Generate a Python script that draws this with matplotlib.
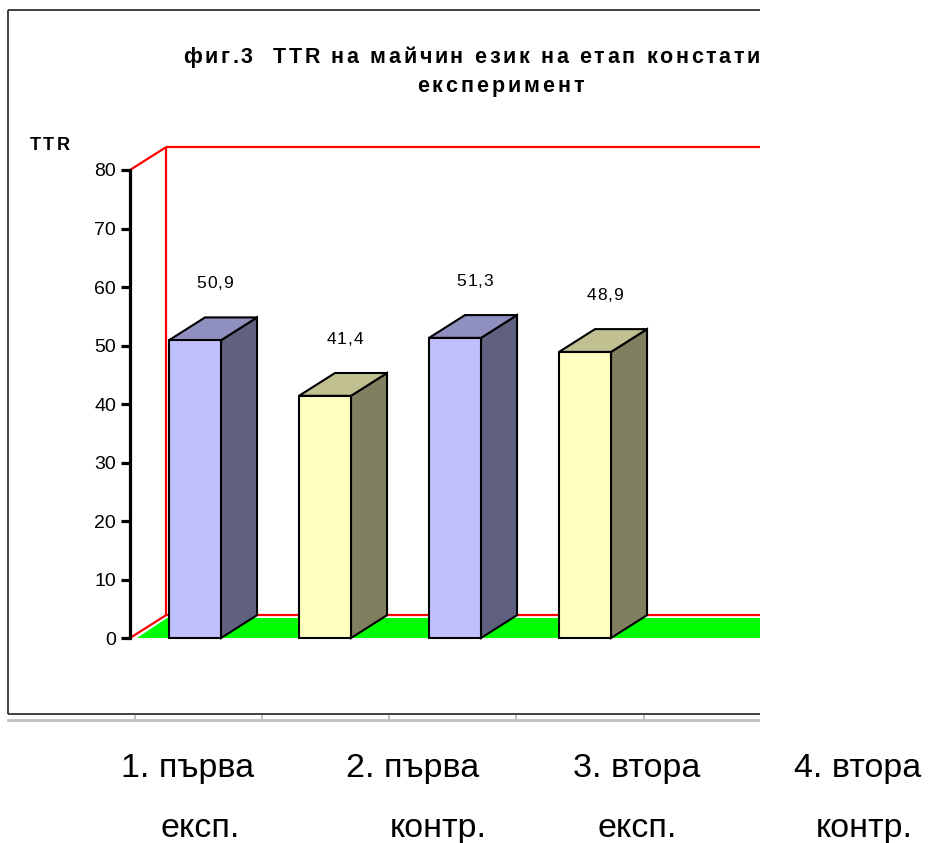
import matplotlib
matplotlib.use("Agg")
import matplotlib.pyplot as plt
from matplotlib.patches import Polygon, Rectangle
from matplotlib.font_manager import FontProperties

# data
groups = ["1. първа експ.", "2. първа контр.", "3. втора експ.", "4. втора контр."]
line1 = ["1. първа", "2. първа", "3. втора", "4. втора"]
line2 = ["експ.", "контр.", "експ.", "контр."]
ttr = [50.9, 41.4, 51.3, 48.9]
labels = ["50,9", "41,4", "51,3", "48,9"]
kinds = ["exp", "ctrl", "exp", "ctrl"]
yticks = [0, 10, 20, 30, 40, 50, 60, 70, 80]

title1 = "фиг.3  TTR на майчин език на етап констатиращ"
title2 = "експеримент"

W, H, DPI = 938, 843, 100
FONT = "Liberation Sans"

# front / top / side shades
colors = {
    "exp": ("#C0C0FF", "#9090C0", "#606080"),
    "ctrl": ("#FFFFC0", "#C0C090", "#808060"),
}

DX, DY = 0.277, 3.9      # depth of the 3d box in data units
BW = 0.4                 # bar width
AX0 = -0.5               # where the value axis stands

fig = plt.figure(figsize=(W / DPI, H / DPI), dpi=DPI)
fig.patch.set_facecolor("white")


def frac(px_left, px_top, px_w, px_h):
    return [px_left / W, 1 - (px_top + px_h) / H, px_w / W, px_h / H]


# main chart axes
ax = fig.add_axes(frac(8, 10, 752, 704))
ax.set_xlim(-1.4385, 4.346)
ax.set_ylim(-12.99, 107.35)
ax.patch.set_visible(False)
for s in ["top", "right", "bottom"]:
    ax.spines[s].set_visible(False)
ax.spines["left"].set_position(("data", AX0))
ax.spines["left"].set_bounds(0, 80)
ax.spines["left"].set_linewidth(2.3)
ax.spines["left"].set_zorder(6)
ax.set_xticks([])
ax.set_yticks(yticks)
ax.tick_params(axis="y", direction="out", length=6.5, width=2.3, pad=3.5,
               labelsize=14, colors="black")
for t in ax.get_yticklabels():
    t.set_fontfamily(FONT)

# floor and walls
XR = 6
floor = Polygon([(AX0 + 0.05, 0), (XR, 0), (XR, DY - 0.5), (AX0 + DX + 0.01, DY - 0.5)],
                closed=True, facecolor="#00FF00", edgecolor="none", zorder=1)
ax.add_patch(floor)
red = dict(color="#FF0000", lw=1.6, zorder=2, solid_capstyle="butt")
ax.plot([AX0, AX0 + DX], [0, DY], **red)
ax.plot([AX0 + DX, XR], [DY, DY], **red)
ax.plot([AX0 + DX, AX0 + DX], [DY, 80 + DY], **red)
ax.plot([AX0, AX0 + DX], [80, 80 + DY], **red)
ax.plot([AX0 + DX, XR], [80 + DY, 80 + DY], **red)

# bars
for i, (v, k) in enumerate(zip(ttr, kinds)):
    front, top, side = colors[k]
    x0, x1 = i - BW / 2, i + BW / 2
    ec = dict(edgecolor="black", linewidth=1.5, joinstyle="miter", zorder=4)
    ax.add_patch(Polygon([(x1, 0), (x1 + DX, DY), (x1 + DX, v + DY), (x1, v)],
                         facecolor=side, **ec))
    ax.add_patch(Polygon([(x0, v), (x1, v), (x1 + DX, v + DY), (x0 + DX, v + DY)],
                         facecolor=top, **ec))
    ax.add_patch(Rectangle((x0, 0), BW, v, facecolor=front, **ec))

# overlay in pixel coordinates for the text and the frame
ov = fig.add_axes([0, 0, 1, 1])
ov.set_xlim(0, W)
ov.set_ylim(H, 0)
ov.axis("off")
ov.patch.set_visible(False)

renderer = fig.canvas.get_renderer()


def advance(ch, fp):
    a = renderer.get_text_width_height_descent("|" + ch + "|", fp, ismath=False)[0]
    b = renderer.get_text_width_height_descent("||", fp, ismath=False)[0]
    return a - b


def spaced(x, y, s, fp, track, ha="left", clip=False):
    widths = [advance(c, fp) for c in s]
    total = sum(widths) + track * (len(s) - 1)
    if ha == "center":
        x -= total / 2
    for c, w in zip(s, widths):
        t = ov.text(x, y, c, fontproperties=fp, ha="left", va="baseline", color="black")
        if clip:
            t.set_clip_box(ax.bbox)
            t.set_clip_on(True)
        x += w + track


fp_title = FontProperties(family=FONT, weight="bold", size=15.5)
spaced(183, 63, title1, fp_title, 2.65, clip=True)
spaced(417, 92, title2, fp_title, 2.9, clip=True)

fp_axis = FontProperties(family=FONT, weight="bold", size=13)
spaced(30, 150, "TTR", fp_axis, 2.0)

# value labels above each bar
fp_val = FontProperties(family=FONT, size=12.5)
for i, (v, lab) in enumerate(zip(ttr, labels)):
    px, py = ax.transData.transform((i + DX * 0.55, v + DY + 5))
    spaced(px, H - py, lab, fp_val, 1.0, ha="center")

# chart frame (open on the right)
frame = dict(color="#333333", lw=1.3, solid_capstyle="butt")
ov.plot([8, 760], [10, 10], **frame)
ov.plot([8, 8], [10, 714], **frame)
ov.plot([8, 760], [714, 714], **frame)

# category strip under the chart
axc = fig.add_axes(frac(8, 700, 750, 20))
axc.set_xlim(-1, 4.9)
axc.set_ylim(0, 1)
axc.patch.set_visible(False)
for s in ["top", "right", "left"]:
    axc.spines[s].set_visible(False)
axc.spines["bottom"].set_color("#C0C0C0")
axc.spines["bottom"].set_linewidth(2)
axc.set_yticks([])
axc.set_xticks(range(5))
axc.set_xticklabels([])
axc.tick_params(axis="x", direction="in", length=3.5, width=1.5, color="#C0C0C0")

fp_cat = FontProperties(family=FONT, size=24.5)
x_line1 = [188, 413, 637, 858]
x_line2 = [200, 438, 637, 864]
for i in range(len(groups)):
    ov.text(x_line1[i], 777, line1[i], fontproperties=fp_cat, ha="center", va="baseline")
    ov.text(x_line2[i], 837, line2[i], fontproperties=fp_cat, ha="center", va="baseline")

fig.savefig("out.png", dpi=DPI)
